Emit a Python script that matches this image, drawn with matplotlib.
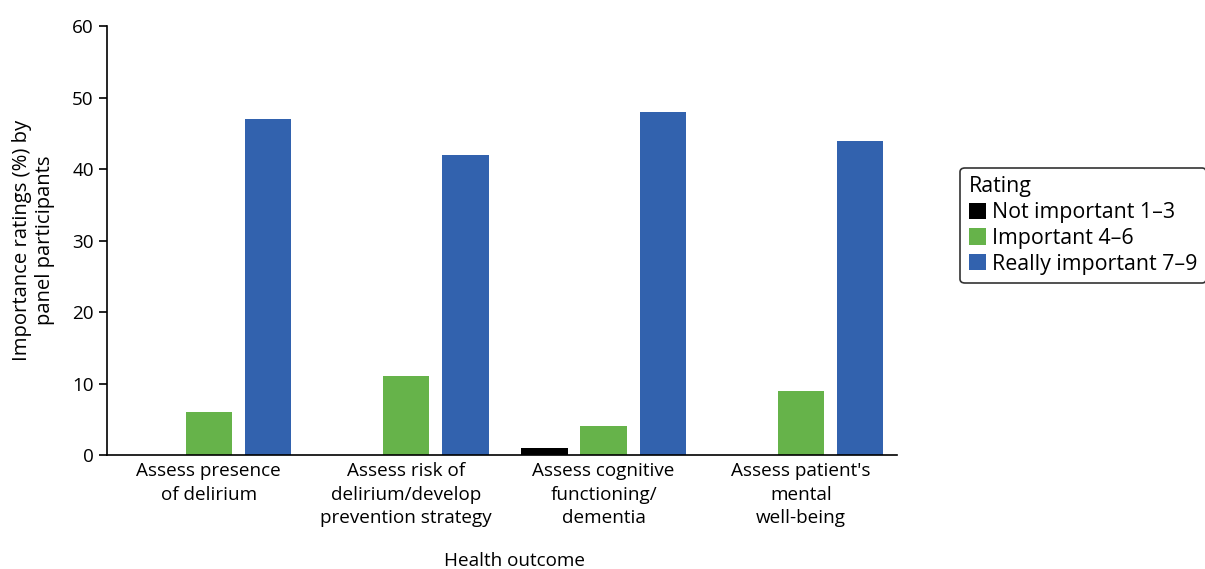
import matplotlib.pyplot as plt
import numpy as np

plt.rcParams['font.family'] = ['Open Sans', 'DejaVu Sans']

categories = ["Assess presence\nof delirium",
              "Assess risk of\ndelirium/develop\nprevention strategy",
              "Assess cognitive\nfunctioning/\ndementia",
              "Assess patient's\nmental\nwell-being"]
not_important = [0, 0, 1, 0]
important = [6, 11, 4, 9]
really_important = [47, 42, 48, 44]
series_labels = ["Not important 1\u20133", "Important 4\u20136", "Really important 7\u20139"]
colors = ["#000000", "#66b34a", "#3262ae"]

fig = plt.figure(figsize=(12.05, 5.69), dpi=100)
ax = fig.add_axes([0.0888, 0.2004, 0.6556, 0.7536])

x = np.arange(len(categories))
w = 0.235
for i, vals in enumerate([not_important, important, really_important]):
    ax.bar(x + (i - 1) * 0.3, vals, width=w, color=colors[i], label=series_labels[i])

ax.set_xlim(-0.516, 3.486)
ax.set_ylim(0, 60)
ax.set_yticks(range(0, 61, 10))
ax.set_xticks(x)
ax.set_xticklabels(categories, fontsize=13.6, linespacing=1.4)
ax.tick_params(axis='x', length=0, pad=5)
ax.tick_params(axis='y', labelsize=13.6, length=6, width=1.2)
ax.spines['top'].set_visible(False)
ax.spines['right'].set_visible(False)
ax.spines['left'].set_linewidth(1.2)
ax.spines['bottom'].set_linewidth(1.2)

ax.set_ylabel("Importance ratings (%) by\npanel participants", fontsize=14.6, linespacing=1.2, labelpad=12)
fig.text(0.427, 0.014, "Health outcome", ha='center', va='center', fontsize=13.6)

leg = fig.legend(loc='upper left', bbox_to_anchor=(0.797, 0.705), title="Rating",
                 fontsize=15.4, title_fontsize=15.4, frameon=True, fancybox=True,
                 edgecolor='black', handlelength=0.8, handleheight=0.8, handletextpad=0.3,
                 borderpad=0.4, labelspacing=0.22, borderaxespad=0, alignment='left')
leg.get_frame().set_linewidth(1.2)

fig.savefig("out.png", dpi=100)
